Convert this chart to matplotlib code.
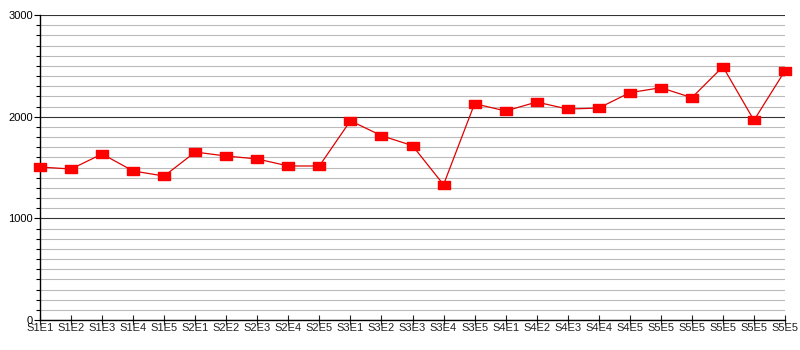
import numpy as np
import matplotlib.pyplot as plt
from matplotlib.ticker import MultipleLocator

# categories along x
labels = ['S1E1', 'S1E2', 'S1E3', 'S1E4', 'S1E5',
          'S2E1', 'S2E2', 'S2E3', 'S2E4', 'S2E5',
          'S3E1', 'S3E2', 'S3E3', 'S3E4', 'S3E5',
          'S4E1', 'S4E2', 'S4E3', 'S4E4', 'S4E5',
          'S5E5', 'S5E5', 'S5E5', 'S5E5', 'S5E5']

# values
values = [1505, 1485, 1633, 1466, 1416,
          1652, 1613, 1584, 1515, 1515,
          1960, 1813, 1715, 1331, 2128,
          2056, 2144, 2075, 2085, 2236,
          2285, 2187, 2492, 1964, 2452]

plt.rcParams['font.family'] = ['Liberation Sans', 'DejaVu Sans']

fig = plt.figure(figsize=(8, 3.5), dpi=100)
ax = fig.add_axes([0.05, 0.0857, 0.93125, 0.8714])

x = np.arange(len(labels))

# wide rectangle marker
rect = [(-1.5, -1), (1.5, -1), (1.5, 1), (-1.5, 1), (-1.5, -1)]
ax.plot(x, values, color='#e00000', lw=0.9, marker=rect, markersize=8,
        markerfacecolor='red', markeredgecolor='red', clip_on=False, zorder=3)

ax.set_xlim(0, len(labels) - 1)
ax.set_ylim(0, 3000)

ax.yaxis.set_major_locator(MultipleLocator(1000))
ax.yaxis.set_minor_locator(MultipleLocator(100))
ax.grid(which='major', axis='y', color='#333333', lw=0.8)
ax.grid(which='minor', axis='y', color='#bbbbbb', lw=0.8)
ax.set_axisbelow(True)

ax.set_xticks(x)
ax.set_xticklabels(labels)

for s in ['top', 'right']:
    ax.spines[s].set_visible(False)
ax.spines['left'].set_linewidth(1.0)
ax.spines['bottom'].set_linewidth(1.0)

ax.tick_params(axis='x', direction='inout', length=7, width=0.8, labelsize=8, pad=-1, colors='#222222')
ax.tick_params(axis='y', which='major', direction='out', length=4, width=0.8, labelsize=8, pad=1)
ax.tick_params(axis='y', which='minor', direction='out', length=3, width=0.8)

plt.savefig('out.png', dpi=100)
